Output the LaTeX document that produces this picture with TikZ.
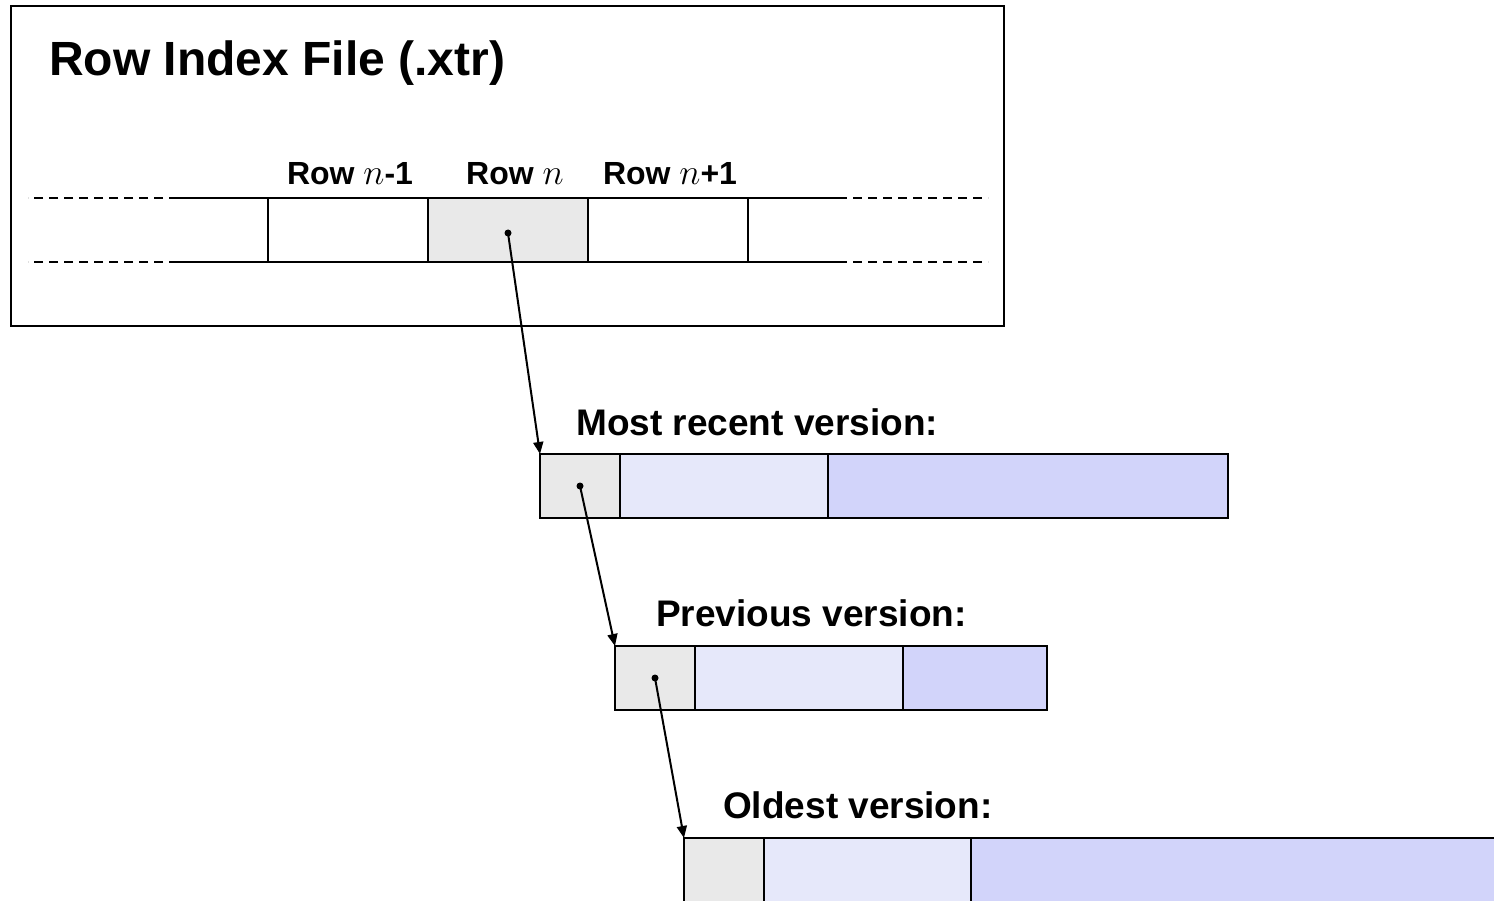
\documentclass[tikz,border=0pt]{standalone}
\usepackage{fontspec}
\setmainfont{Liberation Sans}
\usetikzlibrary{arrows.meta}
\definecolor{cellgray}{HTML}{E9E9E9}
\definecolor{celllight}{HTML}{E6E8FA}
\definecolor{cellblue}{HTML}{D2D4FA}
\newcommand{\nvar}{\scalebox{1.45}{$n$}}
\begin{document}
\begin{tikzpicture}[x=1pt,y=-1pt,
  cell/.style={draw=black,line width=2pt,rectangle,inner sep=0pt,outer sep=0pt,minimum height=64pt,anchor=north west},
  lbl/.style={font=\fontsize{32}{36}\selectfont\bfseries,inner sep=0pt},
  vlbl/.style={font=\fontsize{37}{42}\selectfont\bfseries,inner sep=0pt,anchor=base west},
  ptr/.style={line width=2pt,-{Triangle[length=12pt,width=10pt]}},
  dotmark/.style={circle,fill=black,inner sep=0pt,minimum size=7pt}
]
\useasboundingbox (0,0) rectangle (1494,901);
\clip (0,0) rectangle (1494,901);
% outer file box
\node[draw=black,line width=2pt,rectangle,inner sep=0pt,outer sep=0pt,minimum width=993pt,minimum height=320pt,anchor=north west] (file) at (11,6) {};
\node[font=\fontsize{48}{54}\selectfont\bfseries,inner sep=0pt,anchor=base west] (title) at (49,76) {Row Index File (.xtr)};
% row strip
\node[cell,minimum width=160pt] (r1) at (268,198) {};
\node[cell,minimum width=160pt,fill=cellgray] (r2) at (428,198) {};
\node[cell,minimum width=160pt] (r3) at (588,198) {};
\coordinate (lt) at (178,198);
\coordinate (lb) at (178,262);
\coordinate (rt) at (838,198);
\coordinate (rb) at (838,262);
\coordinate (ldt) at (28,198);
\coordinate (ldb) at (28,262);
\coordinate (rdt) at (988,198);
\coordinate (rdb) at (988,262);
\draw[line width=2pt] (lt) -- (r1.north west) (lb) -- (r1.south west);
\draw[line width=2pt] (r3.north east) -- (rt) (r3.south east) -- (rb);
\draw[line width=2pt,dash pattern=on 9pt off 6pt] (lt) -- (ldt) (lb) -- (ldb) (rt) -- (rdt) (rb) -- (rdb);
\node[lbl,anchor=base] (l1) at ([yshift=13pt,xshift=2pt]r1.north) {Row \nvar-1};
\node[lbl,anchor=base] (l2) at ([yshift=13pt,xshift=7pt]r2.north) {Row \nvar};
\node[lbl,anchor=base] (l3) at ([yshift=13pt,xshift=2pt]r3.north) {Row \nvar+1};
% most recent version
\node[vlbl] (t1) at (576,435) {Most recent version:};
\node[cell,minimum width=80pt,fill=cellgray] (a1) at (540,454) {};
\node[cell,minimum width=208pt,fill=celllight] (a2) at (a1.north east) {};
\node[cell,minimum width=400pt,fill=cellblue] (a3) at (a2.north east) {};
% previous version
\node[vlbl] (t2) at (656,626) {Previous version:};
\node[cell,minimum width=80pt,fill=cellgray] (b1) at (615,646) {};
\node[cell,minimum width=208pt,fill=celllight] (b2) at (b1.north east) {};
\node[cell,minimum width=144pt,fill=cellblue] (b3) at (b2.north east) {};
% oldest version
\node[vlbl] (t3) at (723,818) {Oldest version:};
\node[cell,minimum width=80pt,fill=cellgray] (c1) at (684,838) {};
\node[cell,minimum width=207pt,fill=celllight] (c2) at (c1.north east) {};
\node[cell,minimum width=560pt,fill=cellblue] (c3) at (c2.north east) {};
% pointers
\node[dotmark] (d0) at ([yshift=-3pt]r2.center) {};
\node[dotmark] (d1) at (a1.center) {};
\node[dotmark] (d2) at (b1.center) {};
\draw[ptr] (d0.center) -- (a1.north west);
\draw[ptr] (d1.center) -- (b1.north west);
\draw[ptr] (d2.center) -- (c1.north west);
\end{tikzpicture}
\end{document}
